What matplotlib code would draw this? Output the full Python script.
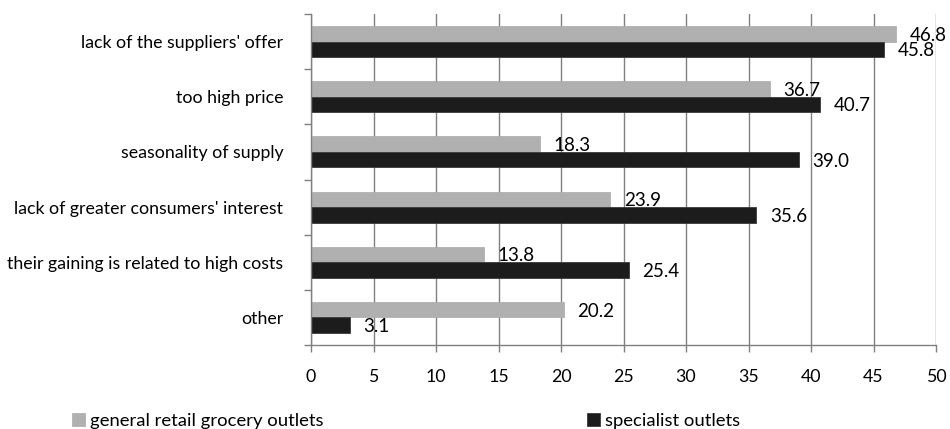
import matplotlib.pyplot as plt
import numpy as np

plt.rcParams['font.family'] = ['Lato', 'DejaVu Sans']

categories = ["lack of the suppliers' offer", "too high price", "seasonality of supply",
              "lack of greater consumers' interest", "their gaining is related to high costs", "other"]
general = [46.8, 36.7, 18.3, 23.9, 13.8, 20.2]
specialist = [45.8, 40.7, 39.0, 35.6, 25.4, 3.1]
series_names = ["general retail grocery outlets", "specialist outlets"]

fig = plt.figure(figsize=(9.5, 4.29), dpi=100)
ax = fig.add_axes([311/950, 1-345/429, 625/950, 331/429])

y = np.arange(len(categories))
h = 0.28
b1 = ax.barh(y - h/2, general, h, color='#b0b0b0', edgecolor='#a8a8a8', linewidth=0.5,
             label=series_names[0], zorder=3)
b2 = ax.barh(y + h/2, specialist, h, color='#1c1c1c', edgecolor='#3a3a3a', linewidth=0.6,
             label=series_names[1], zorder=3)

for yy, v in zip(y, general):
    ax.annotate(f"{v:.1f}", (v, yy - h/2), xytext=(10, -1), textcoords='offset points',
                va='center', ha='left', fontsize=13.5, zorder=4)
for yy, v in zip(y, specialist):
    ax.annotate(f"{v:.1f}", (v, yy + h/2), xytext=(10, -1), textcoords='offset points',
                va='center', ha='left', fontsize=13.5, zorder=4)

ax.set_xlim(0, 50)
ax.set_ylim(5.5, -0.5)
ax.set_xticks(np.arange(0, 51, 5))
ax.set_yticks(y)
ax.set_yticklabels(categories)
ax.set_yticks(np.arange(-0.5, 6, 1), minor=True)
ax.tick_params(axis='y', which='major', length=0, pad=20, labelsize=12.8)
ax.tick_params(axis='y', which='minor', length=5, color='#808080', width=1)
ax.tick_params(axis='x', length=5, color='#808080', width=1, pad=12, labelsize=12.8)
ax.grid(axis='x', color='#808080', linewidth=1, zorder=0)

for s in ['top', 'right']:
    ax.spines[s].set_visible(False)
for s in ['left', 'bottom']:
    ax.spines[s].set_color('#808080')
    ax.spines[s].set_linewidth(1)
    ax.spines[s].set_zorder(5)

fig.legend(handles=[b1, b2], loc='center left', bbox_to_anchor=(72/950, 1-421/429),
           ncol=2, frameon=False, fontsize=13.3, handlelength=0.7, handleheight=0.7,
           handletextpad=0.25, columnspacing=14.3, borderaxespad=0, borderpad=0)

fig.savefig('out.png', dpi=100)
